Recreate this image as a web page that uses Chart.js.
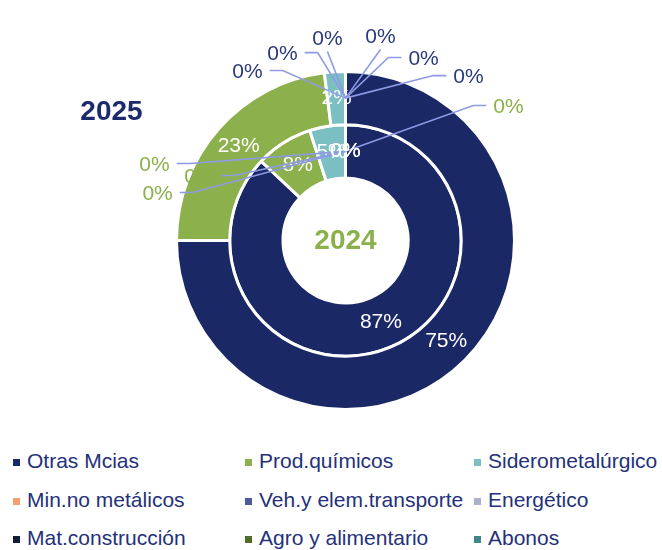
<!DOCTYPE html>
<html>
<head>
<meta charset="utf-8">
<script src="https://cdn.jsdelivr.net/npm/chart.js@4/dist/chart.umd.min.js"></script>
<style>
  body { margin: 0; background: #fff; font-family: "Liberation Sans", Arial, sans-serif; }
  #wrap { position: relative; width: 662px; height: 440px; }
  #legend { display: grid; grid-template-columns: 232px 229px 201px; padding-left: 13px; margin-top: 2px; }
  .item { height: 38.5px; display: flex; align-items: center; color: #24317a; font-size: 21px; white-space: nowrap; }
  .box { width: 7px; height: 7px; margin-right: 7px; margin-top: 3px; flex: none; }
</style>
</head>
<body>
<div id="wrap"><canvas id="myChart" width="662" height="440"></canvas></div>
<div id="legend"></div>
<script>
const categories = ["Otras Mcias", "Prod.químicos", "Siderometalúrgico", "Min.no metálicos",
    "Veh.y elem.transporte", "Energético", "Mat.construcción", "Agro y alimentario", "Abonos"];
const values2025 = [75, 23, 2, 0, 0, 0, 0, 0, 0];
const values2024 = [87, 8, 5, 0, 0, 0, 0, 0, 0];
const sliceColors = ["#1b2866", "#8bb04c", "#7bbfc2", "#f2a070", "#4f59a0", "#aab0c8", "#141a3c", "#4e6e2a", "#3e8786"];

// where the empty slices put their label, as [dx, dy] from the centre in outer radii (null = on the slice)
const callouts2025 = [[-0.58, -0.994], [-0.373, -1.10], [-0.107, -1.189], [0.207, -1.201], [0.462, -1.071], [0.728, -0.964]];
const callouts2024 = [[0.964, -0.787], [-1.13, -0.444], [-0.864, -0.373], [-1.112, -0.272], null, null];

const labelFont = '21px "Liberation Sans", Arial, sans-serif';

const sliceLabels = {
    id: "sliceLabels",
    afterDatasetsDraw(chart) {
        const ctx = chart.ctx;
        const outer = chart.getDatasetMeta(0).data[0];
        const cx = outer.x, cy = outer.y, R = outer.outerRadius;
        const setups = [
            { callouts: callouts2025, outsideColor: "#2c3a7e" },
            { callouts: callouts2024, outsideColor: "#8bb04c" }
        ];

        ctx.save();
        ctx.font = labelFont;
        ctx.textAlign = "center";
        ctx.textBaseline = "middle";

        chart.data.datasets.forEach((ds, di) => {
            const meta = chart.getDatasetMeta(di);
            let zeroIdx = 0;
            meta.data.forEach((arc, i) => {
                const value = ds.data[i];
                const text = value + "%";
                const anchor = arc.tooltipPosition();
                let pos = null;
                if (value === 0) {
                    pos = setups[di].callouts[zeroIdx++];
                }
                if (!pos) {
                    ctx.fillStyle = "#ffffff";
                    ctx.fillText(text, anchor.x, anchor.y);
                    return;
                }
                const lx = cx + pos[0] * R, ly = cy + pos[1] * R;
                const w = ctx.measureText(text).width;

                // leader line
                ctx.strokeStyle = "#8e9ae4";
                ctx.lineWidth = 1.6;
                ctx.beginPath();
                if (lx + w / 2 < anchor.x - 20) {
                    ctx.moveTo(lx + w / 2 + 7, ly - 2);
                    ctx.lineTo(lx + w / 2 + 20, ly - 2);
                } else if (lx - w / 2 > anchor.x + 20) {
                    ctx.moveTo(lx - w / 2 - 7, ly - 2);
                    ctx.lineTo(lx - w / 2 - 20, ly - 2);
                } else {
                    ctx.moveTo(lx, ly + 12);
                }
                ctx.lineTo(anchor.x, anchor.y);
                ctx.stroke();

                ctx.fillStyle = setups[di].outsideColor;
                ctx.fillText(text, lx, ly);
            });
        });

        // ring captions
        ctx.font = 'bold 28px "Liberation Sans", Arial, sans-serif';
        ctx.fillStyle = "#1d2a6c";
        ctx.fillText("2025", cx - 234, cy - 128);
        ctx.fillStyle = "#8bb04c";
        ctx.fillText("2024", cx, cy + 1);
        ctx.restore();
    }
};

const ctx = document.getElementById("myChart");

const myChart = new Chart(ctx, {
    type: "doughnut",
    data: {
        labels: categories,
        datasets: [
            { label: "2025", data: values2025, backgroundColor: sliceColors, borderColor: "#ffffff", borderWidth: 3 },
            { label: "2024", data: values2024, backgroundColor: sliceColors, borderColor: "#ffffff", borderWidth: 3 }
        ]
    },
    options: {
        responsive: false,
        animation: false,
        cutout: "37%",
        layout: { padding: { left: 175, right: 146, top: 70, bottom: 29 } },
        plugins: {
            legend: { display: false },
            tooltip: { enabled: false }
        }
    },
    plugins: [sliceLabels]
});

// legend in three columns, built from the chart's own labels
const legendEl = document.getElementById("legend");
myChart.data.labels.forEach((name, i) => {
    const item = document.createElement("div");
    item.className = "item";
    const box = document.createElement("span");
    box.className = "box";
    box.style.background = sliceColors[i];
    item.appendChild(box);
    item.appendChild(document.createTextNode(name));
    legendEl.appendChild(item);
});
</script>
</body>
</html>
